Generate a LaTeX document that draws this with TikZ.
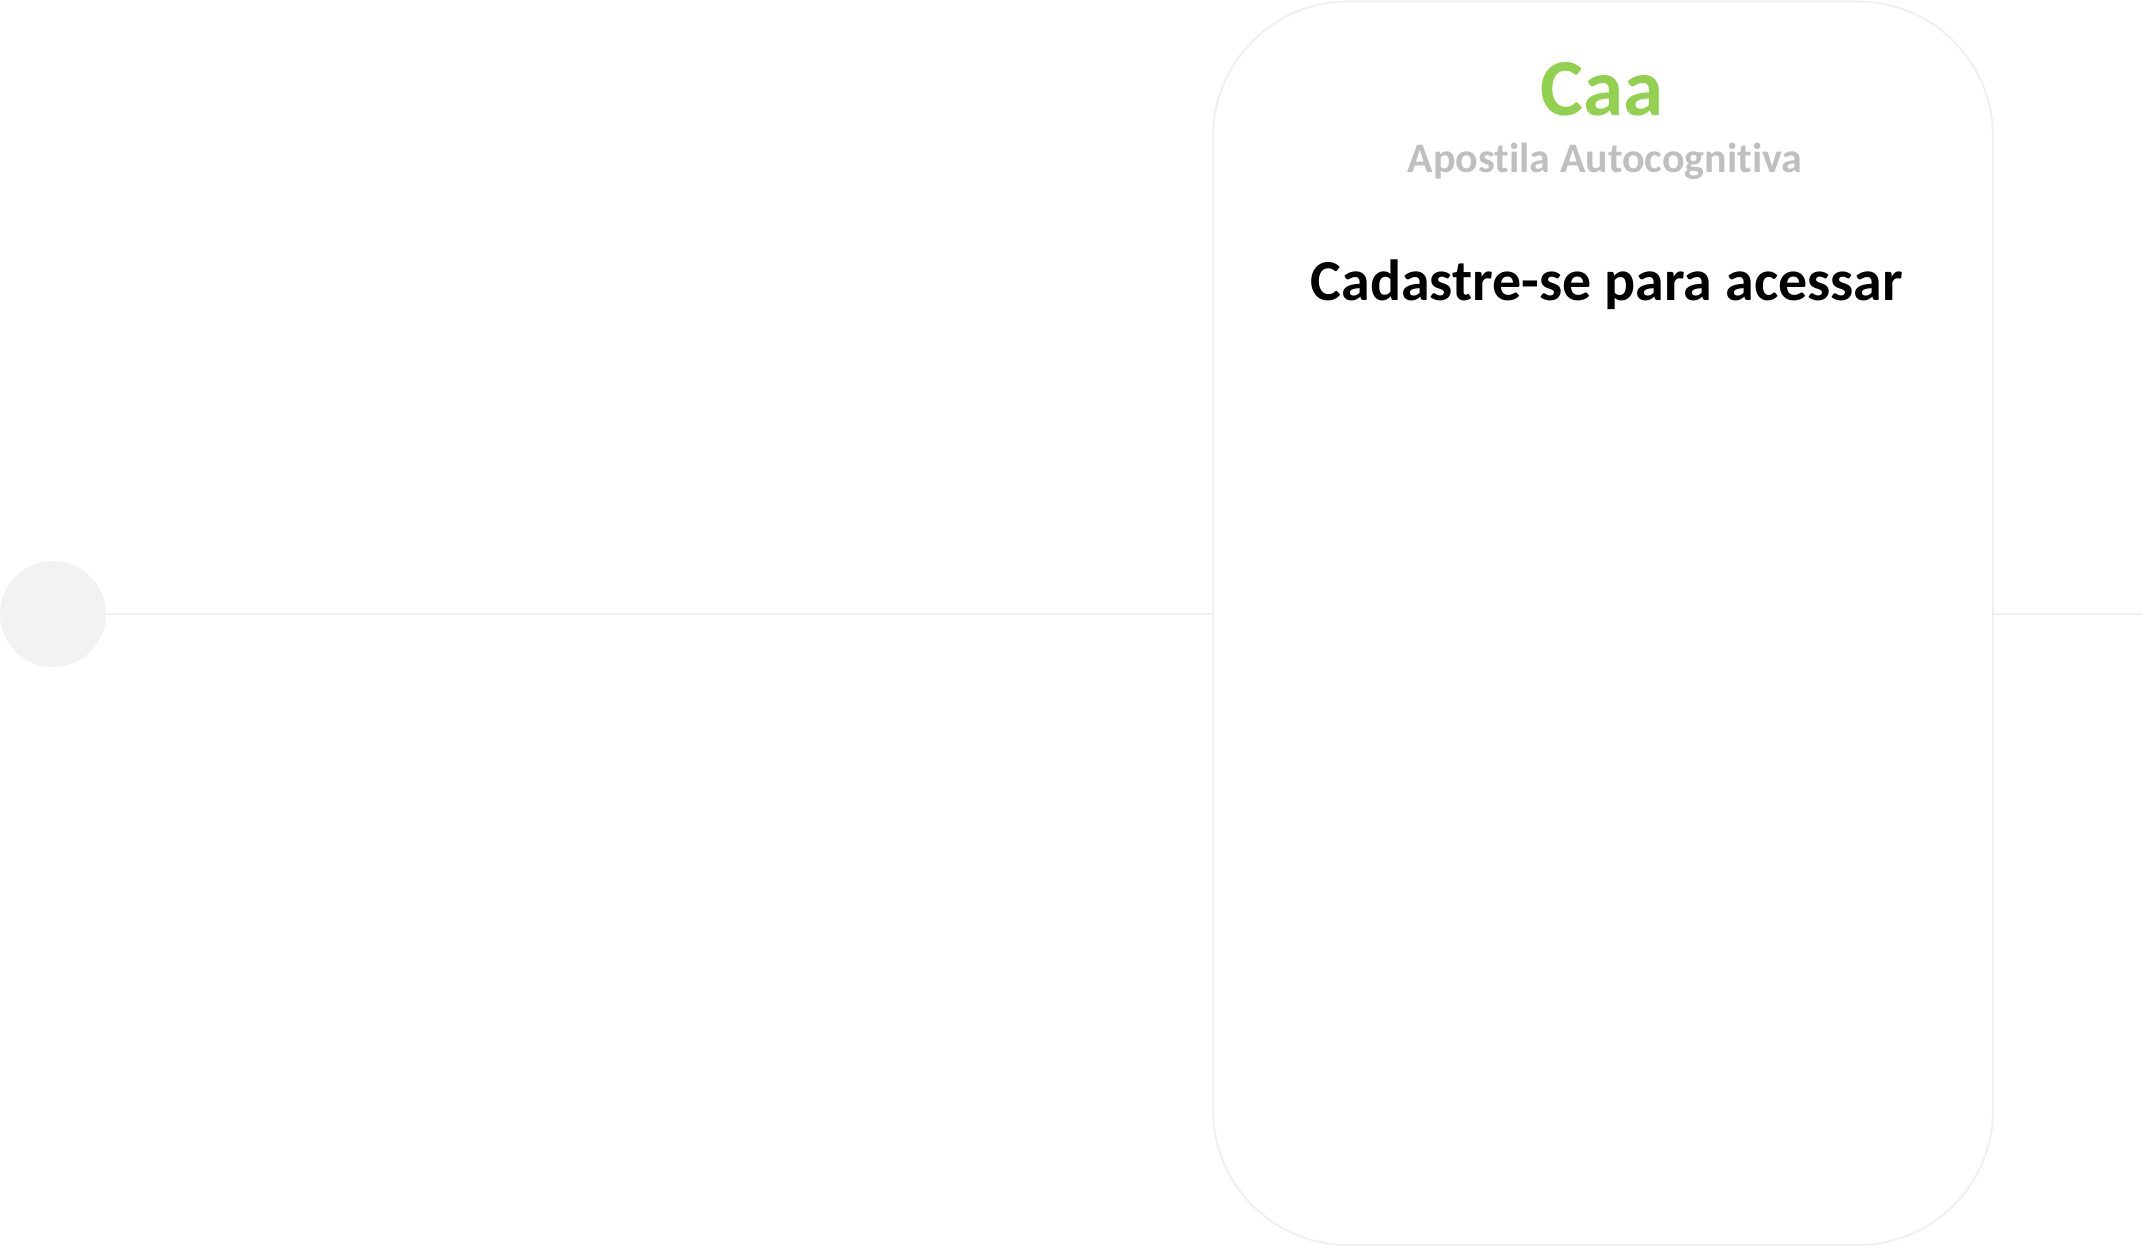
\documentclass[tikz,border=0pt]{standalone}
\usepackage{fontspec}
\setmainfont{Carlito}[Ligatures=CommonOff]
\definecolor{caagreen}{HTML}{92D050}
\definecolor{subgray}{HTML}{BFBFBF}
\definecolor{linegray}{HTML}{F0F0F0}
\definecolor{dotgray}{HTML}{F2F2F2}
\tikzset{
  card/.style={draw=linegray, line width=2pt, fill=white, rounded corners=135pt},
  conn/.style={draw=linegray, line width=2pt},
  dot/.style={circle, fill=dotgray, minimum size=106pt, inner sep=0pt},
  ttl/.style={anchor=base, inner sep=0pt, font=\bfseries\fontsize{81}{81}\selectfont, text=caagreen},
  sub/.style={anchor=base, inner sep=0pt, font=\bfseries\fontsize{42}{42}\selectfont, text=subgray},
  msg/.style={anchor=base, inner sep=0pt, font=\bfseries\fontsize{58}{58}\selectfont, text=black}
}
\begin{document}
\begin{tikzpicture}[x=1pt,y=-1pt]
\useasboundingbox (0,0) rectangle (2142,1247);
\fill[white] (0,0) rectangle (2142,1247);
\coordinate (rend) at (2142,614);
\node[dot] (d) at (53,614) {};
\draw[card] (1213,1.5) rectangle (1993,1245);
\coordinate (cl) at (1213,614);
\coordinate (cr) at (1993,614);
\draw[conn] (d.east) -- (cl);
\draw[conn] (cr) -- (rend);
\node[ttl] (t) at (1602,115) {Caa};
\node[sub] (s) at (1605,172) {Apostila Autocognitiva};
\node[msg] (m) at (1607,300) {Cadastre-se para acessar};
\end{tikzpicture}
\end{document}
